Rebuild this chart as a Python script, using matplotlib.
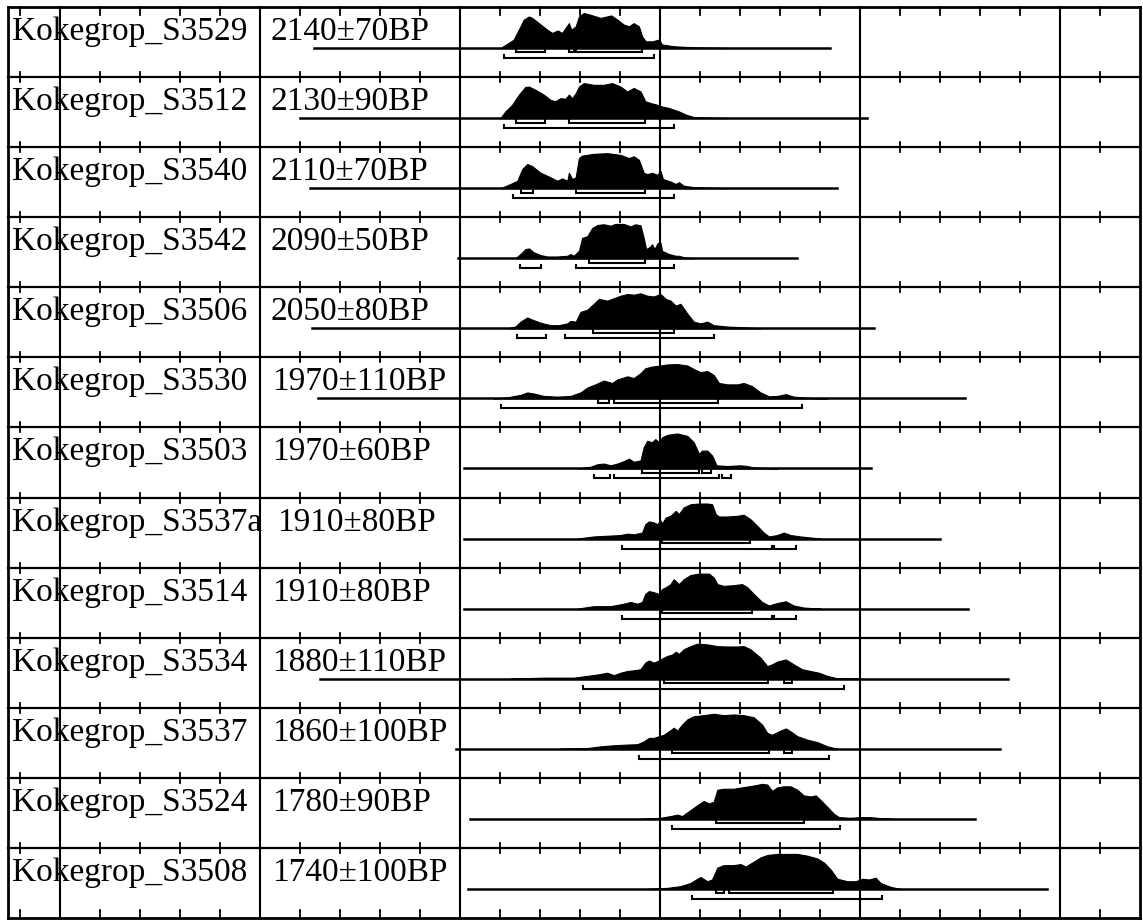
#!/usr/bin/env python3

"""
Multiple calibrated radiocarbon dates from Kokegrop, one row per sample,
drawn like an OxCal multi-plot: probability outline, 68% and 95% ranges.
"""

import matplotlib
matplotlib.use('Agg')
import matplotlib.pyplot as plt

plt.rcParams['font.family'] = ['Liberation Serif', 'DejaVu Serif']

samples = ['Kokegrop_S3529', 'Kokegrop_S3512', 'Kokegrop_S3540', 'Kokegrop_S3542',
           'Kokegrop_S3506', 'Kokegrop_S3530', 'Kokegrop_S3503', 'Kokegrop_S3537a',
           'Kokegrop_S3514', 'Kokegrop_S3534', 'Kokegrop_S3537', 'Kokegrop_S3524',
           'Kokegrop_S3508']
c14_dates = ['2140±70BP', '2130±90BP', '2110±70BP', '2090±50BP', '2050±80BP',
             '1970±110BP', '1970±60BP', '1910±80BP', '1910±80BP', '1880±110BP',
             '1860±100BP', '1780±90BP', '1740±100BP']

# Calendar years (negative = BC) where each row's base line starts and ends.
line_start = [-867, -900, -875, -505, -870, -855, -492, -492, -492, -850, -512, -475, -480]
line_end = [425, 517, 442, 342, 535, 762, 527, 700, 770, 870, 850, 787, 967]

# Probability outline of each row: years and relative height.
prob_years = [
    [-400, -383, -367, -350, -342, -329, -321, -304, -283, -271, -257, -246, -229, -223,
     -212, -204, -192, -175, -150, -123, -108, -92, -79, -67, -54, -46, -37, -21, -4, 4,
     33, 83, 167],
    [-400, -388, -371, -354, -338, -329, -313, -292, -275, -263, -250, -238, -229, -221,
     -212, -204, -192, -167, -142, -121, -100, -83, -67, -50, -38, -25, -8, 4, 21, 33,
     46, 63, 83, 167],
    [-400, -375, -358, -346, -333, -321, -300, -275, -258, -246, -233, -229, -221, -212,
     -204, -196, -167, -133, -100, -79, -67, -54, -42, -33, -21, -8, 0, 6, 25, 38, 46,
     58, 83, 167],
    [-363, -350, -338, -329, -317, -300, -283, -258, -233, -225, -217, -204, -196, -183,
     -171, -158, -142, -125, -113, -92, -75, -63, -50, -42, -36, -27, -21, -15, -7, 0, 4,
     21, 38, 46, 58, 83],
    [-383, -363, -350, -333, -321, -300, -275, -254, -233, -225, -212, -200, -183, -167,
     -154, -133, -117, -100, -83, -67, -50, -33, -17, 0, 13, 25, 38, 50, 67, 83, 100,
     117, 133, 167, 208, 250],
    [-417, -383, -350, -333, -317, -292, -258, -225, -200, -183, -163, -142, -121, -108,
     -83, -67, -50, -38, -21, 0, 17, 42, 67, 88, 100, 117, 133, 146, 167, 192, 208, 229,
     250, 271, 292, 313, 333, 375, 417],
    [-208, -175, -158, -142, -125, -108, -92, -79, -67, -50, -42, -33, -21, -13, -4, 4,
     17, 42, 67, 83, 96, 104, 117, 129, 140, 167, 200, 217, 233, 292],
    [-208, -167, -133, -100, -83, -67, -46, -38, -29, -17, -8, 0, 4, 13, 25, 38, 46, 58,
     75, 96, 117, 129, 138, 146, 167, 192, 208, 225, 242, 258, 271, 292, 308, 325, 350,
     375, 400],
    [-208, -167, -125, -92, -75, -58, -46, -38, -29, -17, -4, 4, 13, 25, 33, 46, 58, 75,
     96, 121, 133, 142, 158, 183, 204, 217, 233, 254, 271, 292, 313, 333, 358, 400],
    [-375, -292, -217, -183, -158, -133, -117, -100, -83, -67, -50, -38, -29, -17, -8, 0,
     8, 17, 29, 38, 46, 58, 75, 92, 117, 142, 167, 192, 208, 225, 250, 267, 279, 292,
     313, 333, 354, 375, 396, 417, 442, 500],
    [-250, -183, -150, -117, -83, -58, -42, -29, -17, -4, 8, 21, 33, 42, 54, 67, 83, 108,
     133, 158, 183, 208, 233, 254, 267, 279, 296, 313, 325, 342, 367, 392, 417, 442],
    [-50, 0, 25, 42, 54, 75, 92, 108, 121, 133, 142, 158, 183, 204, 221, 237, 254, 267,
     279, 292, 308, 325, 342, 358, 375, 388, 400, 417, 433, 446, 475, 500, 525, 550, 583],
    [-33, 17, 50, 75, 92, 100, 117, 129, 142, 158, 183, 200, 213, 233, 250, 267, 292, 317,
     342, 367, 392, 408, 425, 442, 467, 488, 504, 521, 538, 550, 575, 600],
]
prob_heights = [
    [0, .12, .24, .62, .81, .90, .86, .71, .52, .43, .50, .43, .71, .52, .62, .90, 1.0,
     .95, .86, .93, .81, .67, .62, .71, .62, .33, .19, .19, .24, .10, .05, .02, 0],
    [0, .19, .38, .67, .89, .90, .81, .67, .52, .48, .57, .55, .67, .57, .71, .90, 1.0,
     .95, .95, 1.0, .90, .76, .86, .76, .48, .43, .38, .33, .29, .24, .19, .10, .03, 0],
    [0, .12, .21, .54, .69, .63, .44, .31, .21, .28, .21, .44, .26, .31, .86, .93, .98,
     1.0, .95, .86, .91, .81, .44, .40, .44, .38, .49, .26, .19, .12, .17, .07, .03, 0],
    [0, .12, .26, .28, .17, .09, .05, .05, .07, .12, .07, .21, .58, .63, .86, .95, .97,
     .93, .98, .98, .91, .97, .94, .58, .26, .32, .40, .26, .44, .44, .21, .12, .07, .07,
     .03, 0],
    [0, .05, .19, .31, .25, .16, .09, .09, .14, .21, .19, .47, .53, .70, .84, .79, .86,
     .93, .98, .96, 1.0, .93, .91, .98, .84, .79, .65, .70, .42, .19, .14, .19, .09, .05,
     .03, 0],
    [0, .03, .10, .17, .14, .07, .05, .07, .17, .31, .40, .51, .44, .54, .63, .58, .72,
     .86, .91, .94, .97, .98, .94, .81, .75, .78, .67, .44, .40, .40, .44, .35, .17, .06,
     .07, .12, .05, .01, 0],
    [0, .05, .12, .14, .09, .14, .21, .28, .19, .23, .61, .79, .75, .84, .75, .89, .96,
     1.0, .93, .75, .42, .51, .51, .37, .09, .07, .09, .07, .03, 0],
    [0, .06, .08, .10, .14, .12, .17, .41, .49, .46, .41, .52, .43, .60, .65, .79, .70,
     .89, .98, 1.0, 1.0, .98, .70, .63, .63, .65, .68, .55, .36, .17, .06, .10, .17, .10,
     .06, .03, 0],
    [0, .07, .07, .14, .19, .14, .19, .42, .50, .47, .42, .56, .61, .70, .84, .70, .84,
     .96, 1.0, 1.0, .89, .70, .65, .67, .70, .61, .42, .19, .09, .16, .21, .09, .03, 0],
    [0, .03, .03, .08, .12, .17, .10, .17, .22, .24, .27, .46, .52, .46, .50, .55, .60,
     .65, .69, .77, .71, .84, .93, 1.0, .98, .93, .92, .92, .93, .84, .60, .36, .41, .49,
     .55, .41, .27, .22, .17, .08, .01, 0],
    [0, .02, .07, .10, .12, .13, .21, .31, .31, .36, .40, .50, .60, .52, .69, .84, .93,
     .96, 1.0, .96, .98, .96, .90, .69, .45, .40, .50, .58, .50, .36, .26, .19, .07, 0],
    [0, .03, .08, .12, .08, .25, .39, .51, .44, .49, .83, .86, .86, .90, .93, .96, 1.0,
     .98, .80, .90, .93, .93, .83, .67, .64, .67, .54, .34, .15, .05, .03, .05, .05, .02,
     0],
    [0, .03, .08, .17, .29, .34, .22, .27, .61, .68, .68, .71, .64, .78, .90, .97, 1.0,
     1.0, 1.0, .95, .87, .76, .56, .29, .22, .22, .29, .27, .32, .17, .06, 0],
]

# 68.2% (upper) and 95.4% (lower) ranges, calendar years.
sigma1 = [
    [(-360, -288), (-229, -217), (-210, -46)],
    [(-360, -288), (-229, -38)],
    [(-348, -318), (-210, -38)],
    [(-179, -38)],
    [(-168, 33)],
    [(-156, -128), (-117, 144)],
    [(-46, 96), (104, 127)],
    [(4, 225)],
    [(4, 228)],
    [(8, 268), (310, 328)],
    [(28, 271), (310, 329)],
    [(140, 358)],
    [(140, 160), (171, 432)],
]
sigma2 = [
    [(-390, -17)],
    [(-390, 33)],
    [(-368, 33)],
    [(-350, -298), (-210, 33)],
    [(-358, -285), (-239, 135)],
    [(-398, 354)],
    [(-167, -127), (-117, 146), (154, 177)],
    [(-96, 278), (285, 338)],
    [(-96, 278), (285, 338)],
    [(-193, 458)],
    [(-54, 421)],
    [(29, 450)],
    [(79, 554)],
]

date_x = [-976, -976, -976, -976, -976, -971, -971, -959, -971, -971, -971, -971, -971]

PX = 1 / 70.08          # one pixel in row units
YEAR_LEFT, YEAR_RIGHT = -1630, 1200


def draw_bracket(ax, ranges, y, hook):
    for lo, hi in ranges:
        ax.plot([lo, lo, hi, hi], [y + hook, y, y, y + hook], color='black',
                lw=1.5, solid_joinstyle='miter')


def main():
    n_rows = len(samples)
    fig = plt.figure(figsize=(11.43, 9.23), dpi=100)
    ax = fig.add_axes([0, 0, 1, 1])
    ax.set_xlim(-1651.25, 1206.25)
    ax.set_ylim(-5 * PX, n_rows + 7 * PX)
    ax.axis('off')

    # Frame, row lines and the 500-year grid lines
    for i in range(n_rows + 1):
        lw = 2.0 if i in (0, n_rows) else 1.6
        ax.plot([YEAR_LEFT, YEAR_RIGHT], [i, i], color='black', lw=lw)
    for x in [YEAR_LEFT, YEAR_RIGHT]:
        ax.plot([x, x], [0, n_rows], color='black', lw=2.0)
    for x in range(-1500, 1001, 500):
        ax.plot([x, x], [0, n_rows], color='black', lw=1.5)

    # 100-year ticks on every row line
    for x in range(-1600, 1101, 100):
        if x % 500 == 0:
            continue
        for i in range(n_rows + 1):
            if i == n_rows:
                lo, hi = i - 8 * PX, i
            elif i == 0:
                lo, hi = i, i + 8 * PX
            else:
                lo, hi = i - 5 * PX, i + 5 * PX
            ax.plot([x, x], [lo, hi], color='black', lw=1.3)

    for row in range(n_rows):
        top = n_rows - row
        base = top - 41 * PX
        ax.text(-1621, top - 33 * PX, samples[row], fontsize=24, va='baseline', ha='left')
        ax.text(date_x[row], top - 33 * PX, c14_dates[row], fontsize=24,
                va='baseline', ha='left')
        ax.plot([line_start[row], line_end[row]], [base, base], color='black', lw=1.8)
        tops = [base + h * 35 * PX for h in prob_heights[row]]
        ax.fill_between(prob_years[row], base, tops, color='black', lw=0.8)
        draw_bracket(ax, sigma1[row], base - 4.5 * PX, 3 * PX)
        draw_bracket(ax, sigma2[row], base - 10 * PX, 3 * PX)

    fig.savefig('out.png', dpi=100, facecolor='white')


if __name__ == '__main__':
    main()
